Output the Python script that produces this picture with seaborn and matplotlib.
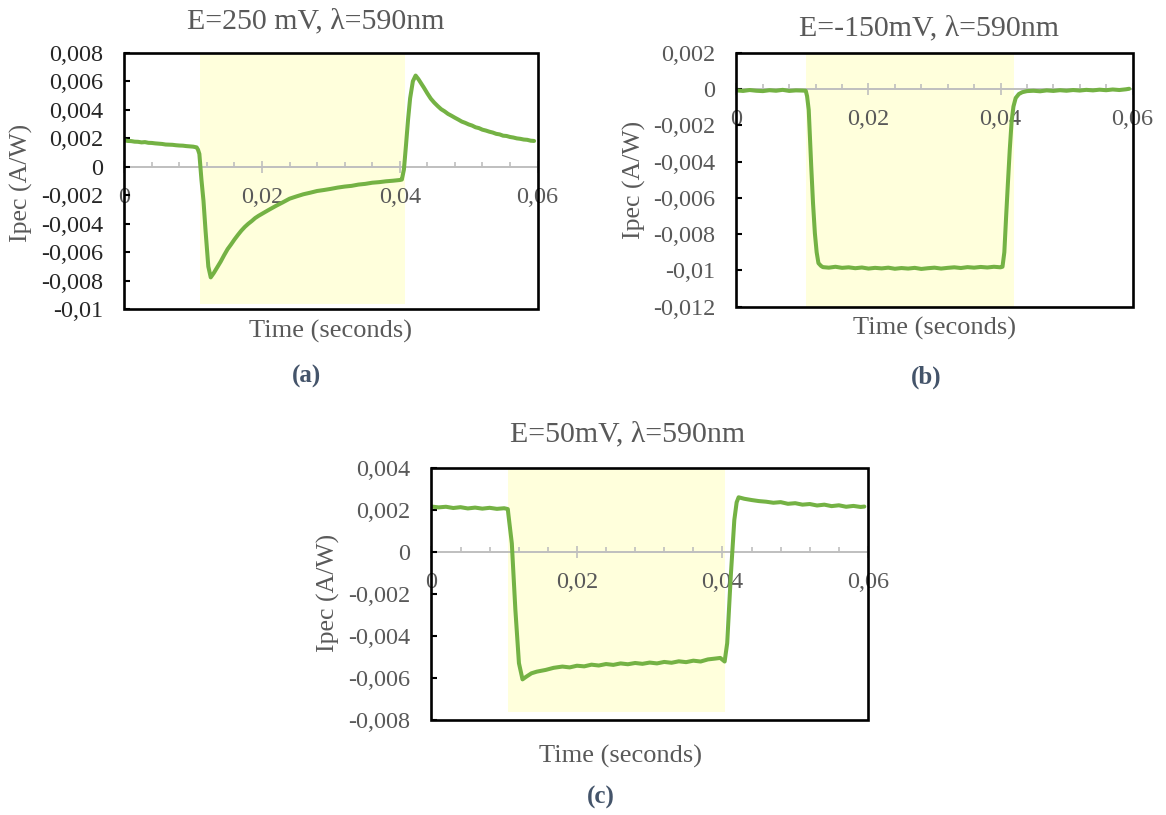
import matplotlib
matplotlib.use("Agg")
import matplotlib.pyplot as plt
from matplotlib.ticker import MultipleLocator, FuncFormatter
from matplotlib.patches import Rectangle
import pandas as pd
import seaborn as sns

sns.set_theme(style="white")
plt.rcParams["font.family"] = ["Liberation Serif", "DejaVu Serif"]
plt.rcParams["axes.unicode_minus"] = False

# ---------------------------------------------------------------------------
# Photocurrent transients (A/W) under chopped 590 nm illumination
# ---------------------------------------------------------------------------

# (a) E = 250 mV
t_a = [0.0000, 0.0005, 0.0010, 0.0015, 0.0020, 0.0025, 0.0030, 0.0035, 0.0040,
       0.0045, 0.0050, 0.0055, 0.0060, 0.0065, 0.0070, 0.0075, 0.0080, 0.0085,
       0.0090, 0.0095, 0.0100, 0.0105, 0.0107, 0.0109, 0.0112, 0.0115, 0.0118,
       0.0122, 0.01255, 0.0130, 0.0135, 0.0140, 0.0145, 0.0150, 0.0155, 0.0160,
       0.0165, 0.0170, 0.0175, 0.0180, 0.0185, 0.0190, 0.0195, 0.0200, 0.0210,
       0.0220, 0.0230, 0.0240, 0.0250, 0.0260, 0.0270, 0.0280, 0.0290, 0.0300,
       0.0310, 0.0320, 0.0330, 0.0340, 0.0350, 0.0360, 0.0370, 0.0380, 0.0390,
       0.0400, 0.0403, 0.0406, 0.0409, 0.0412, 0.0415, 0.0419, 0.0423, 0.0427,
       0.0431, 0.0435, 0.0440, 0.0445, 0.0450, 0.0455, 0.0460, 0.0465, 0.0470,
       0.0475, 0.0480, 0.0485, 0.0490, 0.0495, 0.0500, 0.0505, 0.0510, 0.0515,
       0.0520, 0.0525, 0.0530, 0.0535, 0.0540, 0.0545, 0.0550, 0.0555, 0.0560,
       0.0565, 0.0570, 0.0575, 0.0580, 0.0585, 0.0590, 0.0595]
ipec_a = [0.00186, 0.00181, 0.00180, 0.00176, 0.00175, 0.00171, 0.00173, 0.00168,
          0.00167, 0.00164, 0.00162, 0.00160, 0.00156, 0.00155, 0.00154, 0.00151,
          0.00149, 0.00148, 0.00145, 0.00143, 0.00141, 0.00136, 0.00120, 0.00090,
          -0.00090, -0.00240, -0.00450, -0.00700, -0.00776, -0.00745, -0.00705,
          -0.00665, -0.00620, -0.00578, -0.00545, -0.00510, -0.00478, -0.00448,
          -0.00422, -0.00400, -0.00381, -0.00360, -0.00344, -0.00330, -0.00302,
          -0.00275, -0.00250, -0.00224, -0.00208, -0.00193, -0.00182, -0.00170,
          -0.00163, -0.00155, -0.00146, -0.00139, -0.00134, -0.00125, -0.00120,
          -0.00112, -0.00108, -0.00102, -0.00098, -0.00093, -0.00090, -0.00020,
          0.00150, 0.00330, 0.00480, 0.00600, 0.00640, 0.00615, 0.00585, 0.00555,
          0.00515, 0.00478, 0.00450, 0.00426, 0.00404, 0.00389, 0.00371, 0.00358,
          0.00344, 0.00331, 0.00317, 0.00308, 0.00297, 0.00289, 0.00277, 0.00271,
          0.00260, 0.00254, 0.00246, 0.00240, 0.00231, 0.00227, 0.00218, 0.00216,
          0.00209, 0.00205, 0.00199, 0.00196, 0.00191, 0.00189, 0.00183, 0.00181]

# (b) E = -150 mV
t_b = [0.000, 0.001, 0.002, 0.003, 0.004, 0.005, 0.006, 0.007, 0.008, 0.009,
       0.010, 0.0105, 0.0107, 0.01095, 0.01133, 0.0116, 0.01188, 0.01215,
       0.01242, 0.0128, 0.0131, 0.014, 0.015, 0.016, 0.017, 0.018, 0.019,
       0.020, 0.021, 0.022, 0.023, 0.024, 0.025, 0.026, 0.027, 0.028, 0.029,
       0.030, 0.031, 0.032, 0.033, 0.034, 0.035, 0.036, 0.037, 0.038, 0.039,
       0.040, 0.0403, 0.04058, 0.04085, 0.04112, 0.0414, 0.04168, 0.04196,
       0.0423, 0.04278, 0.0433, 0.0440, 0.045, 0.046, 0.047, 0.048, 0.049,
       0.050, 0.051, 0.052, 0.053, 0.054, 0.055, 0.056, 0.057, 0.058, 0.059,
       0.0595]
ipec_b = [-0.00008, -0.00011, -0.00006, -0.00010, -0.00012, -0.00007, -0.00010,
          -0.00005, -0.00011, -0.00008, -0.00009, -0.00010, -0.00040, -0.00116,
          -0.00428, -0.00630, -0.00795, -0.00900, -0.00960, -0.00975, -0.00982,
          -0.00985, -0.00980, -0.00986, -0.00983, -0.00988, -0.00984, -0.00990,
          -0.00986, -0.00989, -0.00985, -0.00991, -0.00987, -0.00990, -0.00986,
          -0.00992, -0.00988, -0.00985, -0.00990, -0.00986, -0.00983, -0.00987,
          -0.00982, -0.00985, -0.00981, -0.00984, -0.00980, -0.00983, -0.00980,
          -0.00900, -0.00704, -0.00520, -0.00336, -0.00180, -0.00097, -0.00050,
          -0.00028, -0.00018, -0.00012, -0.00010, -0.00013, -0.00008, -0.00011,
          -0.00007, -0.00010, -0.00006, -0.00009, -0.00005, -0.00008, -0.00004,
          -0.00007, -0.00003, -0.00006, -0.00002, 0.00001]

# (c) E = 50 mV
t_c = [0.000, 0.001, 0.002, 0.003, 0.004, 0.005, 0.006, 0.007, 0.008, 0.009,
       0.010, 0.0105, 0.01056, 0.01105, 0.01154, 0.01203, 0.01252, 0.0130,
       0.01375, 0.0145, 0.0157, 0.0168, 0.018, 0.019, 0.020, 0.021, 0.022,
       0.023, 0.024, 0.025, 0.026, 0.027, 0.028, 0.029, 0.030, 0.031, 0.032,
       0.033, 0.034, 0.035, 0.036, 0.037, 0.038, 0.039, 0.0397, 0.0403,
       0.04065, 0.04114, 0.04163, 0.04195, 0.04222, 0.043, 0.044, 0.045, 0.046,
       0.047, 0.048, 0.049, 0.050, 0.051, 0.052, 0.053, 0.054, 0.055, 0.056,
       0.057, 0.058, 0.059, 0.0595]
ipec_c = [0.00215, 0.00211, 0.00214, 0.00208, 0.00212, 0.00206, 0.00210, 0.00205,
          0.00209, 0.00204, 0.00207, 0.00203, 0.00183, 0.00040, -0.00277, -0.00530,
          -0.00607, -0.00595, -0.00578, -0.00570, -0.00562, -0.00552, -0.00546,
          -0.00550, -0.00542, -0.00545, -0.00537, -0.00541, -0.00534, -0.00538,
          -0.00531, -0.00535, -0.00529, -0.00533, -0.00527, -0.00531, -0.00524,
          -0.00528, -0.00521, -0.00525, -0.00518, -0.00522, -0.00512, -0.00508,
          -0.00505, -0.00522, -0.00435, -0.00118, 0.00151, 0.00235, 0.00259,
          0.00252, 0.00246, 0.00241, 0.00238, 0.00233, 0.00236, 0.00228, 0.00231,
          0.00224, 0.00227, 0.00220, 0.00224, 0.00217, 0.00221, 0.00214, 0.00218,
          0.00213, 0.00215]

# Light-on window (s) and vertical extent of its shading (A/W)
light_a = [0.0110, 0.0407]
light_b = [0.0106, 0.0421]
light_c = [0.01056, 0.0403]
shade_a = [-0.0096, 0.008]
shade_b = [-0.012, 0.002]
shade_c = [-0.0076, 0.004]

ylim_a = [-0.01, 0.008]
ylim_b = [-0.012, 0.002]
ylim_c = [-0.008, 0.004]

titles = ["E=250 mV, λ=590nm", "E=-150mV, λ=590nm", "E=50mV, λ=590nm"]
tags = ["(a)", "(b)", "(c)"]

# ---------------------------------------------------------------------------
LINE = "#74B244"
SHADE = "#FFFFDC"
GREY_TXT = "#595959"
AXIS_GREY = "#BFBFBF"
TAG = "#44546A"


def comma(v, pos=None):
    if abs(v) < 1e-12:
        return "0"
    return f"{v:g}".replace(".", ",")


def panel(ax, t, ipec, light, shade, ylim, title, tag, ytick_color, place):
    ax.fill_between(light, shade[0], shade[1], color=SHADE, lw=0, zorder=1)
    df = pd.DataFrame({"t": t, "ipec": ipec})
    sns.lineplot(data=df, x="t", y="ipec", ax=ax, color=LINE, linewidth=2.9,
                 estimator=None, sort=False, zorder=3)

    ax.set_xlim(0, 0.06)
    ax.set_ylim(*ylim)
    ax.set_axisbelow(False)
    ax.xaxis.set_major_locator(MultipleLocator(0.02))
    ax.xaxis.set_minor_locator(MultipleLocator(0.004))
    ax.yaxis.set_major_locator(MultipleLocator(0.002))
    ax.xaxis.set_major_formatter(FuncFormatter(comma))
    ax.yaxis.set_major_formatter(FuncFormatter(comma))

    # horizontal category axis runs through zero
    for side in ("top", "right", "left"):
        ax.spines[side].set_visible(False)
    ax.spines["bottom"].set_position(("data", 0))
    ax.spines["bottom"].set_color(AXIS_GREY)
    ax.spines["bottom"].set_linewidth(1.4)
    ax.add_patch(Rectangle((0, 0), 1, 1, transform=ax.transAxes, fill=False,
                           ec="black", lw=1.9, zorder=4, clip_on=False))

    ax.tick_params(axis="x", which="major", direction="inout", length=8.5,
                   width=1.2, color=AXIS_GREY, labelsize=17.5,
                   labelcolor=GREY_TXT, pad=10, bottom=True)
    ax.tick_params(axis="x", which="minor", direction="in", length=3.6,
                   width=1.2, color=AXIS_GREY, bottom=True)
    ax.tick_params(axis="y", which="major", direction="in", length=4.5,
                   width=1.5, color="black", labelsize=17.5,
                   labelcolor=ytick_color, pad=15, left=True)

    ax.set_xlabel("")
    ax.set_ylabel("")
    tx, ty = place["title"]
    ax.text(tx, ty, title, transform=ax.transAxes, ha="center", va="center",
            fontsize=21.5, color=GREY_TXT)
    lx, ly = place["ylabel"]
    ax.text(lx, ly, "Ipec (A/W)", transform=ax.transAxes, ha="center",
            va="center", rotation=90, fontsize=18.5, color=GREY_TXT)
    xx, xy = place["xlabel"]
    ax.text(xx, xy, "Time (seconds)", transform=ax.transAxes, ha="center",
            va="center", fontsize=19, color=GREY_TXT)
    gx, gy = place["tag"]
    ax.text(gx, gy, tag, transform=ax.transAxes, ha="center", va="center",
            fontsize=18, fontweight="bold", color=TAG)


fig = plt.figure(figsize=(11.66, 8.15), dpi=100)
fig.patch.set_facecolor("white")

ax_a = fig.add_axes([0.1066, 0.6205, 0.3544, 0.3148])
ax_b = fig.add_axes([0.6316, 0.6237, 0.3397, 0.3117])
ax_c = fig.add_axes([0.3700, 0.1166, 0.3744, 0.3096])

panel(ax_a, t_a, ipec_a, light_a, shade_a, ylim_a, titles[0], tags[0], "#262626",
      {"title": (0.464, 1.121), "ylabel": (-0.249, 0.492),
       "xlabel": (0.500, -0.087), "tag": (0.442, -0.263)})
panel(ax_b, t_b, ipec_b, light_b, shade_b, ylim_b, titles[1], tags[1], GREY_TXT,
      {"title": (0.487, 1.096), "ylabel": (-0.258, 0.499),
       "xlabel": (0.501, -0.084), "tag": (0.480, -0.276)})
panel(ax_c, t_c, ipec_c, light_c, shade_c, ylim_c, titles[2], tags[2], GREY_TXT,
      {"title": (0.450, 1.130), "ylabel": (-0.237, 0.503),
       "xlabel": (0.432, -0.145), "tag": (0.388, -0.309)})

fig.savefig("out.png", dpi=100, facecolor="white")
